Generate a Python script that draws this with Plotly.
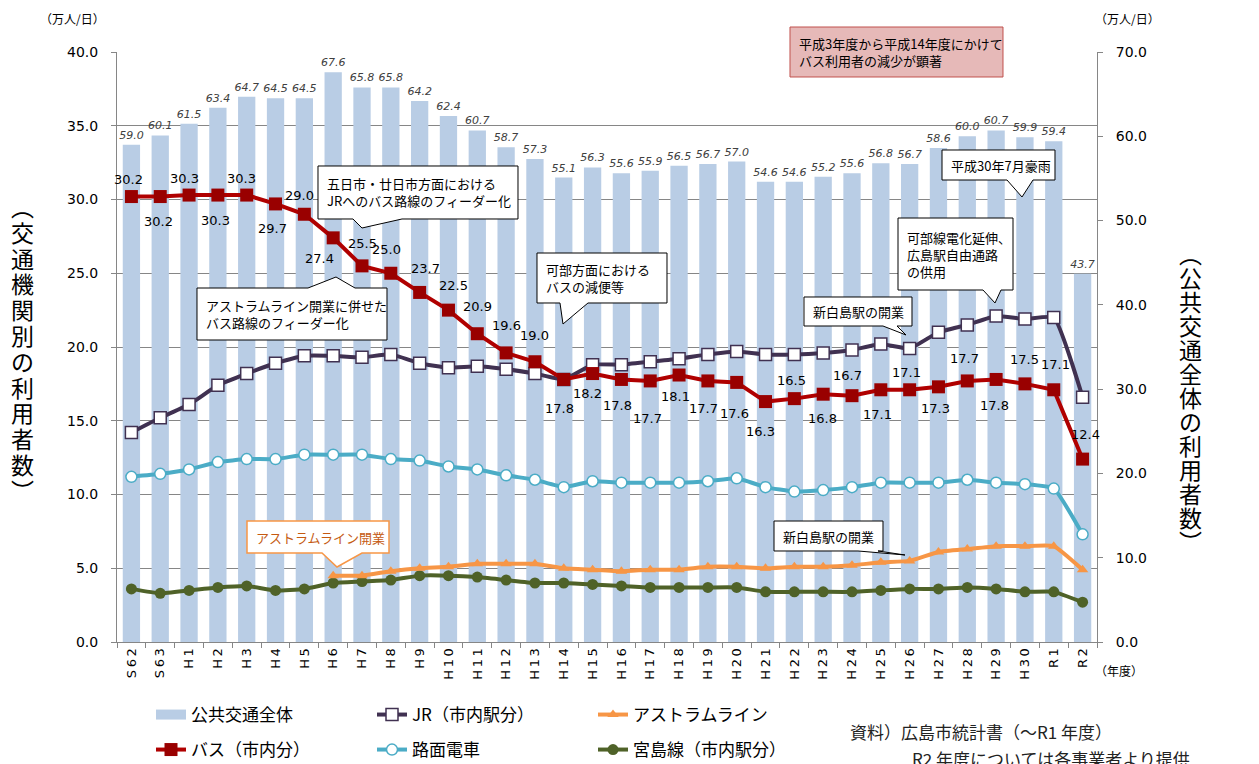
import plotly.graph_objects as go

# ---------------- data ----------------
categories = ["S62", "S63", "H1", "H2", "H3", "H4", "H5", "H6", "H7", "H8", "H9", "H10",
              "H11", "H12", "H13", "H14", "H15", "H16", "H17", "H18", "H19", "H20",
              "H21", "H22", "H23", "H24", "H25", "H26", "H27", "H28", "H29", "H30", "R1", "R2"]

total = [59.0, 60.1, 61.5, 63.4, 64.7, 64.5, 64.5, 67.6, 65.8, 65.8, 64.2, 62.4,
         60.7, 58.7, 57.3, 55.1, 56.3, 55.6, 55.9, 56.5, 56.7, 57.0,
         54.6, 54.6, 55.2, 55.6, 56.8, 56.7, 58.6, 60.0, 60.7, 59.9, 59.4, 43.7]

bus = [30.2, 30.2, 30.3, 30.3, 30.3, 29.7, 29.0, 27.4, 25.5, 25.0, 23.7, 22.5,
       20.9, 19.6, 19.0, 17.8, 18.2, 17.8, 17.7, 18.1, 17.7, 17.6,
       16.3, 16.5, 16.8, 16.7, 17.1, 17.1, 17.3, 17.7, 17.8, 17.5, 17.1, 12.4]

jr = [14.2, 15.2, 16.1, 17.4, 18.2, 18.9, 19.4, 19.4, 19.3, 19.5, 18.9, 18.6,
      18.7, 18.5, 18.2, 17.8, 18.8, 18.8, 19.0, 19.2, 19.5, 19.7,
      19.5, 19.5, 19.6, 19.8, 20.2, 19.9, 21.0, 21.5, 22.1, 21.9, 22.0, 16.6]

tram = [11.2, 11.4, 11.7, 12.2, 12.4, 12.4, 12.7, 12.7, 12.7, 12.4, 12.3, 11.9,
        11.7, 11.3, 11.0, 10.5, 10.9, 10.8, 10.8, 10.8, 10.9, 11.1,
        10.5, 10.2, 10.3, 10.5, 10.8, 10.8, 10.8, 11.0, 10.8, 10.7, 10.4, 7.3]

astram = [None, None, None, None, None, None, None, 4.5, 4.5, 4.8, 5.0, 5.1,
          5.3, 5.3, 5.3, 5.0, 4.9, 4.8, 4.9, 4.9, 5.1, 5.1,
          5.0, 5.1, 5.1, 5.2, 5.4, 5.5, 6.1, 6.3, 6.5, 6.5, 6.5, 4.9]

miyajima = [3.6, 3.3, 3.5, 3.7, 3.8, 3.5, 3.6, 4.0, 4.1, 4.2, 4.5, 4.5,
            4.4, 4.2, 4.0, 4.0, 3.9, 3.8, 3.7, 3.7, 3.7, 3.7,
            3.4, 3.4, 3.4, 3.4, 3.5, 3.6, 3.6, 3.7, 3.6, 3.4, 3.4, 2.7]

series_names = ["公共交通全体", "JR（市内駅分）", "アストラムライン",
                "バス（市内分）", "路面電車", "宮島線（市内駅分）"]

# label offsets for bus values (style, in px)
bus_label_dy = [17, -25, 17, -25, 17, -25, 19, -21, 22, 24, 24, 25,
                27, 27, 26, -29, -20, -26, -38, -21, -28, -31,
                -30, 18, -24, 20, -25, 17, -22, 22, -26, 24, 25, 25]
bus_label_dx = [-3, -2, -5, -2, -5, -3, -5, -14, 0, -4, 6, 5,
                0, 0, 0, -4, -5, -4, -3, -4, -4, -2,
                -5, -3, -1, -5, -3, -3, -3, -3, -2, 0, 2, 3]

# ---------------- geometry helpers ----------------
W, H = 1259, 764
L, R, T, B = 117, 1097, 52, 642


def P(x, y):
    return (x - L) / (R - L), (B - y) / (B - T)


FONT_JP = "Noto Sans CJK JP"
FONT_NUM = "DejaVu Sans"
GRAY = "#868686"
BAR_COLOR = "#b9cde5"

fig = go.Figure()

# bars (base axis, right side)
fig.add_trace(go.Bar(
    x=categories, y=total, name=series_names[0], yaxis="y",
    marker=dict(color=BAR_COLOR, line=dict(width=0)), width=0.6,
    texttemplate="%{y:.1f}", textposition="outside", constraintext="none",
    cliponaxis=False,
    textfont=dict(family=FONT_NUM, size=11, color="#404040", style="italic"),
    showlegend=False, hoverinfo="skip",
))
# legend-only entry for the bars (wide rectangle swatch like the reference)
fig.add_trace(go.Scatter(
    x=[None], y=[None], name=series_names[0], yaxis="y", mode="lines",
    line=dict(color=BAR_COLOR, width=11), legend="legend", legendrank=1,
))

fig.add_trace(go.Scatter(
    x=categories, y=miyajima, name=series_names[5], yaxis="y2", mode="lines+markers",
    line=dict(color="#4f6228", width=4, shape="spline", smoothing=0.4),
    marker=dict(symbol="circle", size=11, color="#4f6228"),
    legend="legend2", legendrank=3, cliponaxis=False,
))
fig.add_trace(go.Scatter(
    x=categories, y=astram, name=series_names[2], yaxis="y2", mode="lines+markers",
    line=dict(color="#f79646", width=4, shape="spline", smoothing=0.4),
    marker=dict(symbol="triangle-up", size=10, color="#f79646"),
    legend="legend", legendrank=3, cliponaxis=False,
))
fig.add_trace(go.Scatter(
    x=categories, y=tram, name=series_names[4], yaxis="y2", mode="lines+markers",
    line=dict(color="#4bacc6", width=4, shape="spline", smoothing=0.4),
    marker=dict(symbol="circle", size=11, color="white", line=dict(color="#4bacc6", width=1.5)),
    legend="legend2", legendrank=2, cliponaxis=False,
))
fig.add_trace(go.Scatter(
    x=categories, y=jr, name=series_names[1], yaxis="y2", mode="lines+markers",
    line=dict(color="#403151", width=4, shape="spline", smoothing=0.4),
    marker=dict(symbol="square", size=12, color="white", line=dict(color="#403151", width=1.5)),
    legend="legend", legendrank=2, cliponaxis=False,
))
fig.add_trace(go.Scatter(
    x=categories, y=bus, name=series_names[3], yaxis="y2", mode="lines+markers",
    line=dict(color="#b00000", width=4),
    marker=dict(symbol="square", size=13, color="#990000"),
    legend="legend2", legendrank=1, cliponaxis=False,
))

annotations = []
# bus value labels
for c, v, dy, dx in zip(categories, bus, bus_label_dy, bus_label_dx):
    annotations.append(dict(
        x=c, y=v, xref="x", yref="y2", text=f"{v:.1f}", showarrow=False,
        yshift=dy, xshift=dx, font=dict(family=FONT_NUM, size=13, color="black"),
    ))

shapes = []


def callout(x0, y0, x1, y1, text, wedge=None, fill="white", line="black",
            tcolor="black", size=13, lw=1):
    if wedge is None:
        pts = [(x0, y0), (x1, y0), (x1, y1), (x0, y1)]
    else:
        side, b1, b2, tx, ty = wedge
        if side == "bottom":
            pts = [(x0, y0), (x1, y0), (x1, y1), (b2, y1), (tx, ty), (b1, y1), (x0, y1)]
        else:
            pts = [(x0, y0), (b1, y0), (tx, ty), (b2, y0), (x1, y0), (x1, y1), (x0, y1)]
    conv = [P(a, b) for a, b in pts]
    path = "M " + " L ".join(f"{a:.5f},{b:.5f}" for a, b in conv) + " Z"
    shapes.append(dict(type="path", xref="paper", yref="paper", path=path,
                       fillcolor=fill, line=dict(color=line, width=lw), layer="above"))
    ax, ay = P(x0 + 7, (y0 + y1) / 2)
    annotations.append(dict(x=ax, y=ay, xref="paper", yref="paper", text=text,
                            showarrow=False, xanchor="left", yanchor="middle", align="left",
                            font=dict(family=FONT_JP, size=size, color=tcolor)))


callout(790, 27, 1003, 77, "平成3年度から平成14年度にかけて<br>バス利用者の減少が顕著",
        fill="#e6b9b8", line="#c0504d")
callout(318, 166, 518, 219, "五日市・廿日市方面における<br>JRへのバス路線のフィーダー化",
        wedge=("bottom", 353, 402, 362, 228))
callout(197, 288, 387, 340, "アストラムライン開業に併せた<br>バス路線のフィーダー化",
        wedge=("top", 308, 355, 336, 277))
callout(537, 253, 667, 303, "可部方面における<br>バスの減便等",
        wedge=("bottom", 560, 588, 563, 324))
callout(942, 150, 1055, 180, "平成30年7月豪雨",
        wedge=("bottom", 1007, 1033, 1022, 197))
callout(898, 218, 1013, 290, "可部線電化延伸、<br>広島駅自由通路<br>の供用",
        wedge=("bottom", 983, 1001, 995, 303))
callout(804, 297, 912, 326, "新白島駅の開業",
        wedge=("bottom", 883, 897, 906, 335))
callout(247, 521, 389, 553, "アストラムライン開業",
        wedge=("bottom", 322, 362, 337, 567), line="#f79646", tcolor="#c55a11", lw=1.5)
callout(774, 521, 883, 551, "新白島駅の開業",
        wedge=("bottom", 858, 878, 905, 555))

# unit labels
for (ux, uy, txt) in [(72, 18, "（万人/日）"), (1127, 18, "（万人/日）"), (1119, 670, "（年度）")]:
    a, b = P(ux, uy)
    annotations.append(dict(x=a, y=b, xref="paper", yref="paper", text=txt, showarrow=False,
                            xanchor="center", yanchor="middle",
                            font=dict(family=FONT_JP, size=12, color="black")))

# vertical axis titles (upright characters stacked top to bottom)
for chars, cx, y_first, pitch in [("︵交通機関別の利用者数︶", 22, 206, 25.8),
                                  ("︵公共交通全体の利用者数︶", 1190, 253, 24.0)]:
    for i, ch in enumerate(chars):
        a, b = P(cx, y_first + i * pitch)
        annotations.append(dict(x=a, y=b, xref="paper", yref="paper", text=ch, showarrow=False,
                                xanchor="center", yanchor="middle", borderpad=0,
                                font=dict(family=FONT_JP, size=23, color="black")))

# source note
for (sx, sy, txt) in [(848, 731, "資料）広島市統計書（～R1 年度）"),
                      (910, 758, "R2 年度については各事業者より提供")]:
    a, b = P(sx, sy)
    annotations.append(dict(x=a, y=b, xref="paper", yref="paper", text=txt, showarrow=False,
                            xanchor="left", yanchor="middle",
                            font=dict(family=FONT_JP, size=17, color="#222222")))

spaced = ["\u2009".join(c) for c in categories]

lx, ly1 = P(151, 697)
_, ly2 = P(151, 732)
legend_common = dict(orientation="h", xanchor="left", yanchor="top",
                     font=dict(family=FONT_JP, size=17, color="black"),
                     entrywidth=176, entrywidthmode="pixels", bgcolor="rgba(0,0,0,0)")

fig.update_layout(
    width=W, height=H,
    margin=dict(l=L, r=W - R, t=T, b=H - B, pad=0, autoexpand=False),
    paper_bgcolor="white", plot_bgcolor="white",
    font=dict(family=FONT_JP, color="black"),
    showlegend=True,
    legend=dict(x=lx, y=ly1, **legend_common),
    legend2=dict(x=lx, y=ly2, **legend_common),
    xaxis=dict(type="category", range=[-0.5, len(categories) - 0.5],
               tickvals=categories, ticktext=spaced, tickangle=-90,
               showline=True, linecolor=GRAY, linewidth=1,
               ticks="outside", tickson="boundaries", ticklen=5, tickcolor=GRAY,
               tickfont=dict(family=FONT_NUM, size=13, color="black"),
               showgrid=False, zeroline=False),
    yaxis=dict(side="right", range=[0, 70], dtick=10, tick0=0, tickformat=".1f",
               showline=True, linecolor=GRAY, linewidth=1,
               ticks="outside", ticklen=5, tickcolor=GRAY,
               tickfont=dict(family=FONT_NUM, size=14, color="black"),
               ticklabelstandoff=10,
               showgrid=False, zeroline=False),
    yaxis2=dict(side="left", overlaying="y", range=[0, 40], dtick=5, tick0=0, tickformat=".1f",
                showline=True, linecolor=GRAY, linewidth=1,
                ticks="outside", ticklen=5, tickcolor=GRAY,
                tickfont=dict(family=FONT_NUM, size=14, color="black"),
                ticklabelstandoff=10,
                showgrid=True, gridcolor=GRAY, gridwidth=1, zeroline=False),
    shapes=shapes,
    annotations=annotations,
)

fig.write_html("out.html", config={"displayModeBar": False},
               post_script="document.body.style.margin='0';document.body.style.overflow='hidden';")
